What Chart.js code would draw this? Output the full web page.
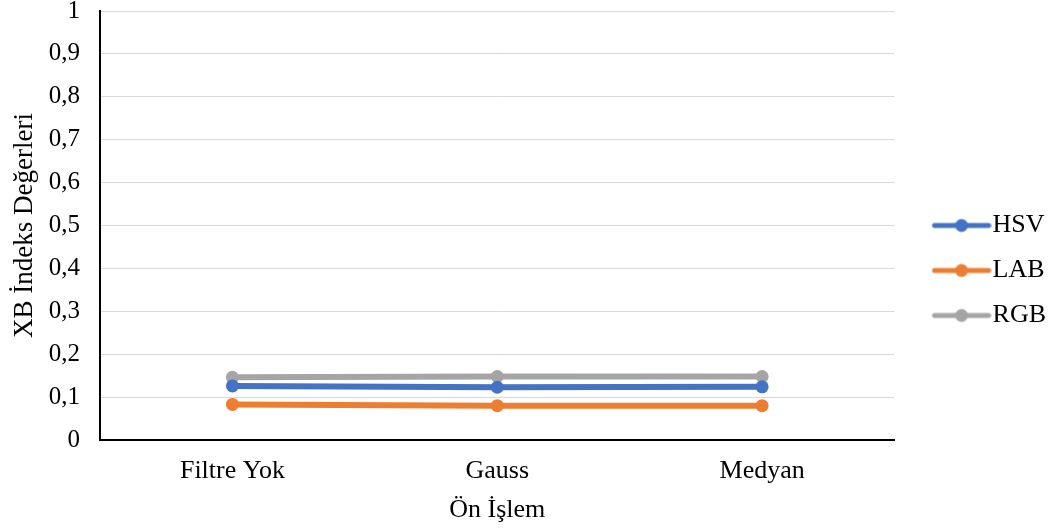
<!DOCTYPE html>
<html>
<head>
<meta charset="utf-8">
<script src="https://cdn.jsdelivr.net/npm/chart.js@4.4.1/dist/chart.umd.min.js"></script>
<style>
  html, body { margin: 0; padding: 0; background: #ffffff; }
  #wrap { width: 1057px; height: 529px; }
</style>
</head>
<body>
<div id="wrap"><canvas id="chart" width="1057" height="529"></canvas></div>
<script>
// Pre-processing methods (x axis)
const categories = ['Filtre Yok', 'Gauss', 'Medyan'];

// XB index values per colour space
const hsvValues = [0.126, 0.123, 0.124];
const labValues = [0.083, 0.080, 0.080];
const rgbValues = [0.146, 0.148, 0.148];

const seriesNames = ['HSV', 'LAB', 'RGB'];
const seriesColors = ['#4472C4', '#ED7D31', '#A5A5A5'];

const yTitle = 'XB İndeks Değerleri';
const xTitle = 'Ön İşlem';

const FONT = "'Liberation Serif', 'Times New Roman', serif";

// Legend marker: a short thick line with a dot in the middle.
// The canvas is wider than the drawn part so the marker sits right next to its label.
function legendMarker(color) {
  const c = document.createElement('canvas');
  c.width = 90; c.height = 16;
  const g = c.getContext('2d');
  g.strokeStyle = color;
  g.lineWidth = 5;
  g.lineCap = 'round';
  g.beginPath();
  g.moveTo(33, 8); g.lineTo(87, 8);
  g.stroke();
  g.fillStyle = color;
  g.beginPath();
  g.arc(60, 8, 6.5, 0, Math.PI * 2);
  g.fill();
  return c;
}

const seriesData = [hsvValues, labValues, rgbValues];

const datasets = seriesNames.map((name, i) => ({
  label: name,
  data: seriesData[i],
  borderColor: seriesColors[i],
  backgroundColor: seriesColors[i],
  borderWidth: 6,
  pointRadius: 6.5,
  pointHoverRadius: 6.5,
  pointBorderWidth: 0,
  pointStyle: 'circle',
  tension: 0,
  fill: false
}));

const markers = seriesColors.map(legendMarker);

new Chart(document.getElementById('chart'), {
  type: 'line',
  data: { labels: categories, datasets },
  options: {
    responsive: false,
    animation: false,
    devicePixelRatio: 1,
    layout: { padding: { left: 0, right: 1, top: 0, bottom: 0 } },
    plugins: {
      tooltip: { enabled: false },
      legend: {
        position: 'right',
        title: { display: true, text: '', padding: 0, font: { size: 10, lineHeight: '12px' } },
        labels: {
          usePointStyle: true,
          pointStyleWidth: 66,
          padding: 19,
          color: '#000000',
          font: { family: FONT, size: 26 },
          generateLabels(chart) {
            return chart.data.datasets.map((ds, i) => ({
              text: ds.label,
              pointStyle: markers[i],
              fillStyle: ds.borderColor,
              strokeStyle: ds.borderColor,
              lineWidth: 0,
              hidden: false,
              datasetIndex: i,
              fontColor: '#000000'
            }));
          }
        }
      }
    },
    scales: {
      x: {
        offset: true,
        grid: { display: false, drawTicks: false },
        border: { display: true, color: '#000000', width: 2 },
        ticks: { color: '#000000', font: { family: FONT, size: 26 }, padding: 16 },
        title: { display: true, text: xTitle, color: '#000000', font: { family: FONT, size: 26 }, padding: { top: 0, bottom: 3 } },
        afterFit(scale) { scale.height = 89; }
      },
      y: {
        min: 0,
        max: 1,
        grid: { color: '#d9d9d9', lineWidth: 1, drawTicks: false },
        border: { display: true, color: '#000000', width: 2 },
        ticks: {
          stepSize: 0.1,
          color: '#000000',
          font: { family: FONT, size: 25 },
          padding: 20,
          callback: v => (Math.round(v * 10) / 10).toString().replace('.', ',')
        },
        title: { display: true, text: yTitle, color: '#000000', font: { family: FONT, size: 27 }, padding: { top: 9, bottom: 0 } },
        afterFit(scale) { scale.width = 100; scale.paddingTop = 11; }
      }
    }
  }
});
</script>
</body>
</html>
